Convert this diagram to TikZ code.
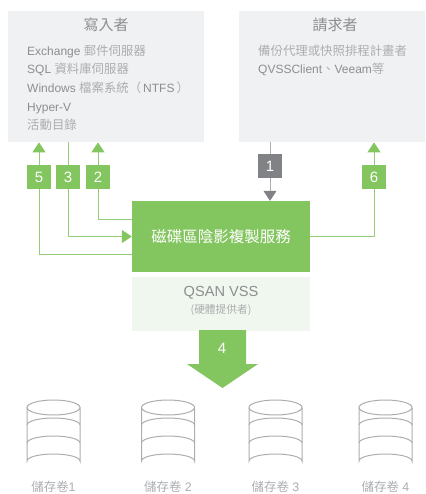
\documentclass[tikz,border=0pt]{standalone}
\usepackage{fontspec}
\usetikzlibrary{arrows.meta,calc}
\setmainfont{Liberation Sans}
\newfontfamily\tc{Noto Sans CJK TC}
\definecolor{vssGreen}{HTML}{83C55F}
\definecolor{vssLine}{HTML}{93CE75}
\definecolor{vssPale}{HTML}{F0F7EE}
\definecolor{panelGrey}{HTML}{F0F1F3}
\definecolor{stepGrey}{HTML}{808285}
\definecolor{textGrey}{HTML}{8C8E91}
\definecolor{softGrey}{HTML}{ABADB0}
\newcommand{\zhtext}[1]{{\tc\color{softGrey}\fontsize{12.4}{18.7}\selectfont #1}}
\tikzstyle{panel}=[shape = rectangle, fill = panelGrey, inner sep = 0pt, anchor = north west]
\tikzstyle{stepBox}=[shape = rectangle, minimum size = 24pt, inner sep = 0pt, fill = vssGreen, text = white, font = \fontsize{15}{15}\selectfont]
\tikzstyle{flowLine}=[draw = vssLine, line width = 1pt]
\tikzstyle{flowTip}=[flowLine, -{Triangle[length = 10pt, width = 13pt, color = vssGreen]}]
\tikzstyle{listText}=[anchor = north west, align = left, inner sep = 0pt, text = textGrey, font = \fontsize{12}{18.7}\selectfont]
\tikzstyle{volumeLine}=[draw = softGrey, line width = 1pt]
\begin{document}
\begin{tikzpicture}[x = 1pt, y = -1pt]
\useasboundingbox (0,0) rectangle (425,494);
% panels
\node[panel, minimum width = 196pt, minimum height = 131pt] (writer) at (8,11) {};
\node[panel, minimum width = 186pt, minimum height = 131pt] (requester) at (239,11) {};
\node[text = textGrey, font = \tc\fontsize{15}{15}\selectfont] (writerTitle) at (106,25) {寫入者};
\node[text = textGrey, font = \tc\fontsize{15}{15}\selectfont] (requesterTitle) at (335,25) {請求者};
\node[listText] (writerList) at (27,44.5) {Exchange \zhtext{郵件伺服器}\\SQL \zhtext{資料庫伺服器}\\Windows \zhtext{檔案系統（}\hspace{2pt}NTFS\hspace{2pt}\zhtext{）}\\Hyper-V\\\zhtext{活動目錄}};
\node[listText] (requesterList) at (258,44.5) {\zhtext{備份代理或快照排程計畫者}\\QVSSClient\zhtext{、}Veeam\zhtext{等}};
% service
\node[shape = rectangle, fill = vssGreen, minimum width = 178pt, minimum height = 71pt, inner sep = 0pt, text = white, font = \tc\fontsize{15.5}{15.5}\selectfont] (service) at (221,236.5) {磁碟區陰影複製服務};
\node[shape = rectangle, fill = vssPale, minimum width = 178pt, minimum height = 54pt, inner sep = 0pt] (qsan) at (221,304) {};
\node[text = textGrey, font = \fontsize{14.6}{14.6}\selectfont] (qsanTitle) at (221,293) {QSAN VSS};
\node[text = softGrey, font = \tc\fontsize{10.7}{10.7}\selectfont] (qsanNote) at (221,310) {(硬體提供者)};
% steps
\node[stepBox, fill = stepGrey] (stepOne) at (270,166) {1};
\node[stepBox] (stepTwo) at (98,177) {2};
\node[stepBox] (stepThree) at (68,177) {3};
\node[stepBox] (stepFive) at (39,177) {5};
\node[stepBox] (stepSix) at (374,177) {6};
% connectors
\draw[flowLine, draw = softGrey] (stepOne |- requester.south) -- (stepOne);
\draw[flowLine, draw = softGrey, -{Triangle[length = 10pt, width = 13pt, color = stepGrey]}] (stepOne) -- (stepOne |- service.north);
\draw[flowLine] ([yshift = 17.5pt]service.west) -| (stepTwo);
\draw[flowTip] (stepTwo) -- (stepTwo |- writer.south);
\draw[flowLine] (stepThree |- writer.south) -- (stepThree);
\draw[flowTip] (stepThree) |- (service.west);
\draw[flowLine] ([yshift = -18pt]service.west) -| (stepFive);
\draw[flowTip] (stepFive) -- (stepFive |- writer.south);
\draw[flowLine] (service.east) -| (stepSix);
\draw[flowTip] (stepSix) -- (stepSix |- requester.south);
% big arrow
\fill[vssGreen] (199,330) -- (246,330) -- (246,364) -- (258,364) -- (222.5,388) -- (187,364) -- (199,364) -- cycle;
\node[text = white, font = \fontsize{15}{15}\selectfont] (stepFour) at (222,348) {4};
% volumes
\foreach \vx/\vname/\vnum in {53.5/volOne/1, 168/volTwo/{ 2}, 275.5/volThree/{ 3}, 385.5/volFour/{ 4}}
{
\draw[volumeLine] (\vx-26.5,407.5) -- (\vx-26.5,461) arc[start angle = 180, end angle = 360, x radius = 26.5, y radius = 7] -- (\vx+26.5,407.5);
\draw[volumeLine] (\vx,407.5) ellipse [x radius = 26.5, y radius = 7.5];
\draw[volumeLine] (\vx-26.5,425) arc[start angle = 180, end angle = 360, x radius = 26.5, y radius = 7];
\draw[volumeLine] (\vx-26.5,443) arc[start angle = 180, end angle = 360, x radius = 26.5, y radius = 7];
\node[text = softGrey, font = \fontsize{12.4}{12.4}\selectfont] (\vname) at (\vx,487) {\zhtext{儲存卷}\vnum};
}
\end{tikzpicture}
\end{document}
